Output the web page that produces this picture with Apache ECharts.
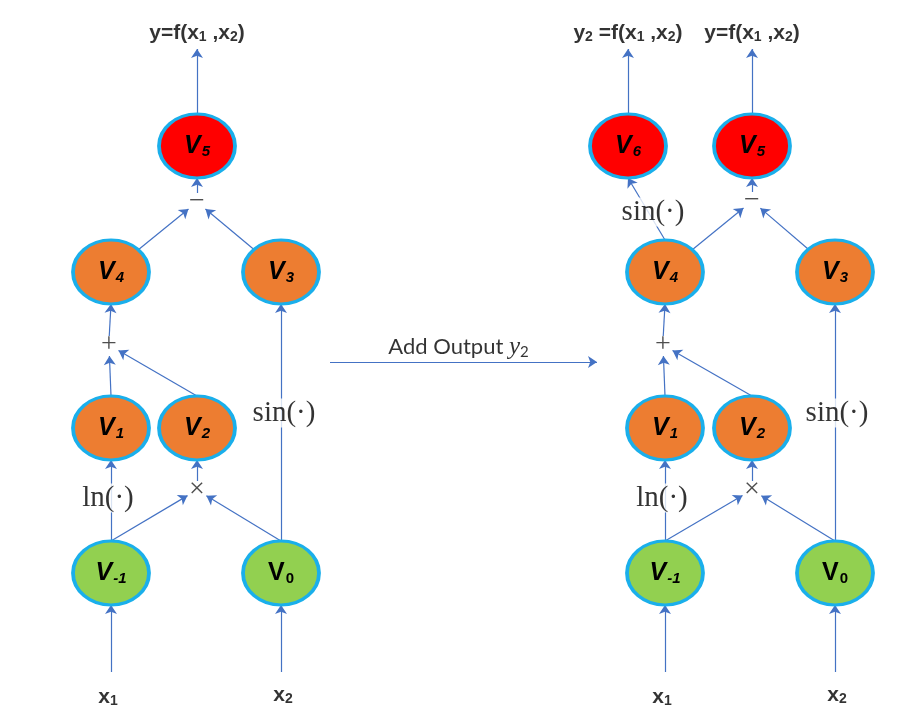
<!DOCTYPE html>
<html>
<head>
<meta charset="utf-8">
<script src="https://cdn.jsdelivr.net/npm/echarts@6/dist/echarts.min.js"></script>
<style>
html,body{margin:0;padding:0;background:#fff}
#main{width:910px;height:728px}
</style>
</head>
<body>
<div id="main"></div>
<script>
// graph nodes (a = original graph, b = graph with added output)
var nodeIds   = ['a-1','a0','a1','a2','a3','a4','a5', 'b-1','b0','b1','b2','b3','b4','b5','b6'];
var nodeSubs  = ['-1','0','1','2','3','4','5', '-1','0','1','2','3','4','5','6'];
var nodeKinds = ['in','in','mid','mid','mid','mid','out', 'in','in','mid','mid','mid','mid','out','out'];
var nodeX = [111,281,111,197,281,111,197, 665,835,665,752,835,665,752,628];
var nodeY = [573,573,428,428,272,272,146, 573,573,428,428,272,272,146,146];

// operators
var opIds  = ['a*','a+','a-','b*','b+','b-'];
var opText = ['×','+','−','×','+','−'];
var opX = [197,109,197,752,663,752];
var opY = [490,345,202,490,345,201];

// function labels sitting on edges
var fnText = ['ln(·)','sin(·)','ln(·)','sin(·)','sin(·)'];
var fnX = [108,284,662,837,653];
var fnY = [498,413,498,413,212];

// inputs / outputs
var ioIds   = ['ax1','ax2','ay','bx1','bx2','by2','by'];
var ioText  = ['x1','x2','y','x1','x2','y2','y'];
var ioX     = [108,283,197,662,837,628,752];
var ioTip   = [672,672,49,672,672,49,49];
var ioTextY = [697,695,33,697,695,33,33];

// edges: from, to, anchor on source node
var edges = [
    ['ax1','a-1'], ['ax2','a0'],
    ['a-1','a1','top'], ['a-1','a*','top'], ['a0','a*','top'], ['a*','a2'],
    ['a1','a+','top'], ['a2','a+','top'], ['a+','a4'], ['a0','a3','top'],
    ['a4','a-','edge'], ['a3','a-','edge'], ['a-','a5'], ['a5','ay','top'],
    ['bx1','b-1'], ['bx2','b0'],
    ['b-1','b1','top'], ['b-1','b*','top'], ['b0','b*','top'], ['b*','b2'],
    ['b1','b+','top'], ['b2','b+','top'], ['b+','b4'], ['b0','b3','top'],
    ['b4','b-','edge'], ['b3','b-','edge'], ['b-','b5'], ['b5','by','top'],
    ['b4','b6','top'], ['b6','by2','top']
];

// middle transition arrow
var stepText = 'Add Output';
var stepFrom = [330,362];
var stepTo = [597,362];

var RX = 38, RY = 32;
var kindColor = {'in':'#92D050','mid':'#ED7D31','out':'#FF0000'};
var SANS = 'Liberation Sans';

function find(id){
    var i = nodeIds.indexOf(id);
    if(i>=0) return {type:'node',x:nodeX[i],y:nodeY[i]};
    i = opIds.indexOf(id);
    if(i>=0) return {type:'op',x:opX[i],y:opY[i]};
    i = ioIds.indexOf(id);
    return {type:'io',x:ioX[i]+(ioTip[i]>600?2:0),y:ioTip[i]};
}
function toward(p,q,d){
    var dx=q[0]-p[0], dy=q[1]-p[1], l=Math.sqrt(dx*dx+dy*dy);
    return [p[0]+dx/l*d, p[1]+dy/l*d];
}

var edgeData = edges.map(function(e){
    var a=find(e[0]), b=find(e[1]);
    var s=[a.x,a.y], t=[b.x,b.y];
    if(a.type=='node'){
        if(e[2]=='edge'){
            var dx=b.x-a.x, dy=b.y-a.y;
            var k=1/Math.sqrt(dx*dx/(RX*RX)+dy*dy/(RY*RY));
            s=[a.x+dx*k, a.y+dy*k];
        }else{
            s=[a.x, a.y-RY];
        }
    }else if(a.type=='op'){
        s=toward([a.x,a.y],[b.x,b.y],9);
    }else{
        s=[b.type=='node'?find(e[1]).x:a.x, a.y];
    }
    if(b.type=='node'){
        t=[b.x, b.y+RY];
    }else if(b.type=='op'){
        t=toward([b.x,b.y],s,11);
    }
    return {coords:[s,t]};
});
edgeData.push({coords:[stepFrom,stepTo]});

function sub(txt){
    // "x1" -> bold x with subscript 1
    return '{b|'+txt.charAt(0)+'}'+(txt.length>1?'{bs|'+txt.slice(1)+'}':'');
}
function ioLabel(i){
    var t=ioText[i];
    if(t=='y') return '{b|y=f(x}{bs|1}{b| ,x}{bs|2}{b|)}';
    if(t=='y2') return '{b|y}{bs|2}{b| =f(x}{bs|1}{b| ,x}{bs|2}{b|)}';
    return sub(t);
}

var boldRich = {
    b:{fontFamily:SANS,fontWeight:'bold',fontSize:21,color:'#000'},
    bs:{fontFamily:SANS,fontWeight:'bold',fontSize:14,color:'#000',padding:[9,0,0,0]}
};

var option = {
    animation:false,
    grid:{left:0,right:0,top:0,bottom:0},
    xAxis:{type:'value',min:0,max:910,show:false},
    yAxis:{type:'value',min:0,max:728,inverse:true,show:false},
    series:[
        {
            type:'lines',
            coordinateSystem:'cartesian2d',
            silent:true,
            z:1,
            symbol:['none','arrow'],
            symbolSize:9,
            lineStyle:{color:'#4472C4',width:1.2,opacity:1},
            data:edgeData
        },
        {
            type:'scatter',
            silent:true,
            z:3,
            symbol:'circle',
            symbolSize:[RX*2,RY*2],
            data:nodeIds.map(function(id,i){
                return {value:[nodeX[i],nodeY[i]],
                    itemStyle:{color:kindColor[nodeKinds[i]]}};
            }),
            itemStyle:{borderColor:'#1AAFEB',borderWidth:3.5,opacity:1},
            label:{
                show:true,position:'inside',
                formatter:function(p){
                    var s=nodeSubs[p.dataIndex];
                    if(s=='0') return '{vu|V}{su|0}';
                    return '{v|V}{s|'+s+'}';
                },
                rich:{
                    v:{fontFamily:SANS,fontWeight:'bold',fontStyle:'italic',fontSize:25,color:'#000'},
                    s:{fontFamily:SANS,fontWeight:'bold',fontStyle:'italic',fontSize:15,color:'#000',padding:[11,0,0,1]},
                    vu:{fontFamily:SANS,fontWeight:'bold',fontSize:25,color:'#000'},
                    su:{fontFamily:SANS,fontWeight:'bold',fontSize:15,color:'#000',padding:[11,0,0,1]}
                }
            }
        },
        {
            type:'scatter',
            silent:true,
            z:4,
            symbolSize:1,
            itemStyle:{color:'transparent'},
            data:opIds.map(function(id,i){return [opX[i],opY[i]];}),
            label:{
                show:true,position:'inside',
                formatter:function(p){return opText[p.dataIndex];},
                fontFamily:'Liberation Serif',fontSize:28,color:'#222'
            }
        },
        {
            type:'scatter',
            silent:true,
            z:4,
            symbolSize:1,
            itemStyle:{color:'transparent'},
            data:fnText.map(function(t,i){return [fnX[i],fnY[i]];}),
            label:{
                show:true,position:'inside',
                formatter:function(p){return fnText[p.dataIndex];},
                fontFamily:'Liberation Serif',fontSize:29,color:'#000',
                backgroundColor:'#fff',padding:[0,1]
            }
        },
        {
            type:'scatter',
            silent:true,
            z:4,
            symbolSize:1,
            itemStyle:{color:'transparent'},
            data:ioIds.map(function(id,i){return [ioX[i],ioTextY[i]];}),
            label:{
                show:true,position:'inside',
                formatter:function(p){return ioLabel(p.dataIndex);},
                rich:boldRich
            }
        },
        {
            type:'scatter',
            silent:true,
            z:4,
            symbolSize:1,
            itemStyle:{color:'transparent'},
            data:[[(stepFrom[0]+stepTo[0])/2-5,347]],
            label:{
                show:true,position:'inside',
                formatter:'{t|'+stepText+' }{y|y}{ys|2}',
                rich:{
                    t:{fontFamily:'Lato',fontSize:22,color:'#000'},
                    y:{fontFamily:'Liberation Serif',fontStyle:'italic',fontSize:25,color:'#000'},
                    ys:{fontFamily:'Lato',fontSize:15,color:'#000',padding:[10,0,0,0]}
                }
            }
        }
    ]
};

var chart = echarts.init(document.getElementById('main'));
chart.setOption(option);
</script>
</body>
</html>
